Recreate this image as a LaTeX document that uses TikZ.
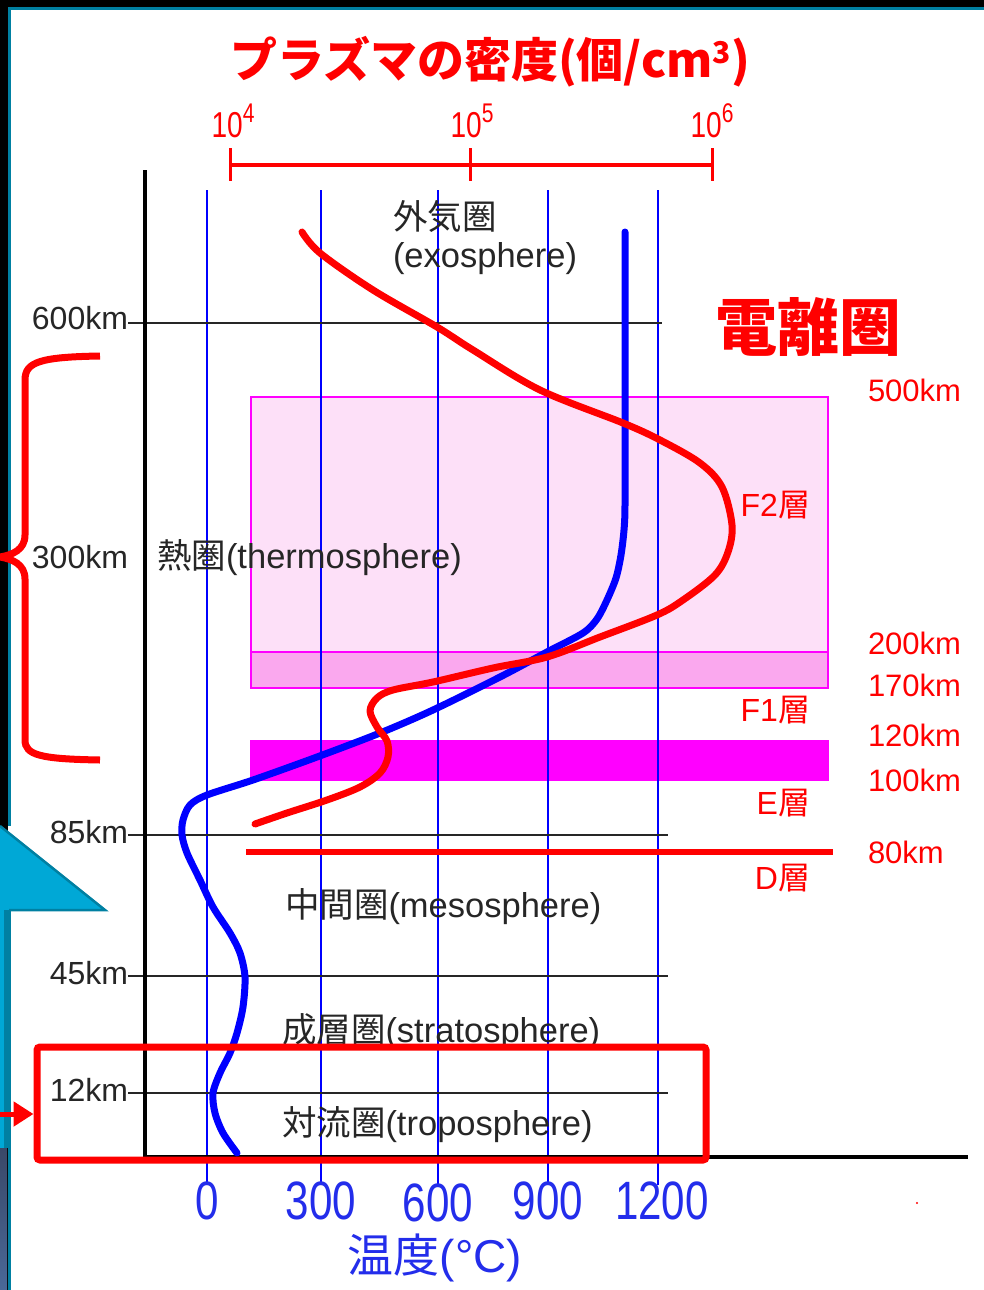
\documentclass[tikz,border=0pt]{standalone}
\usepackage{fontspec}
\setmainfont{Liberation Sans}
\newfontfamily\jp{Noto Sans CJK JP}
\newfontfamily\narrow[FakeStretch=0.78]{Liberation Sans}
\usetikzlibrary{arrows.meta, positioning, calc}

\definecolor{plasmared}{RGB}{255,0,0}
\definecolor{tempblue}{RGB}{0,0,255}
\definecolor{labelblue}{RGB}{35,45,235}
\definecolor{ftwopink}{RGB}{253,224,248}
\definecolor{fonepink}{RGB}{250,168,238}
\definecolor{elayer}{RGB}{255,0,255}
\definecolor{slideteal}{RGB}{0,128,162}
\definecolor{slidecyan}{RGB}{0,168,214}
\definecolor{slidedark}{RGB}{58,72,104}
\definecolor{slidedarklow}{RGB}{74,104,152}

\newcommand{\tenpow}[1]{10\raisebox{15pt}{\fontsize{27}{27}\selectfont #1}}

\tikzset{
  base/.style = {
    inner sep=0pt, outer sep=0pt
  },
  kmlabel/.style = {
    base, text=black!85, anchor=east, font=\fontsize{32}{34}\selectfont
  },
  ionlabel/.style = {
    base, text=plasmared, anchor=west, font=\fontsize{31}{33}\selectfont
  },
  layerlabel/.style = {
    base, text=plasmared, anchor=east, font=\fontsize{32}{34}\selectfont
  },
  zonelabel/.style = {
    base, text=black!85, anchor=west, align=left,
    font=\fontsize{34.5}{38}\selectfont
  },
  templabel/.style = {
    base, text=labelblue, font=\narrow\fontsize{54}{56}\selectfont
  },
  denslabel/.style = {
    base, text=plasmared, font=\narrow\fontsize{36}{38}\selectfont
  },
  tempgrid/.style = {tempblue, line width=1.5pt},
  altgrid/.style = {black!85, line width=1.5pt},
  axis/.style = {black, line width=3.5pt},
  tempcurve/.style = {
    tempblue, line width=7pt, line join=round, line cap=round
  },
  plasmacurve/.style = {
    plasmared, line width=7pt, line join=round, line cap=round
  },
  highlight/.style = {
    draw=plasmared, line width=7pt, rounded corners=3pt, inner sep=0pt,
    minimum width=669pt, minimum height=113pt
  },
  pointer/.style = {
    plasmared, line width=5pt, -{Triangle[length=20pt, width=24pt]}
  }
}

\begin{document}
\begin{tikzpicture}[
  x=1pt, y=-1pt,
  every node/.style = {align=center}
  ]

  % Canvas and slide frame
  \useasboundingbox (0,0) rectangle (984,1290);
  \fill[white] (0,0) rectangle (984,1290);
  \fill[black] (0,0) rectangle (984,7);
  \fill[black] (0,0) rectangle (8,1290);
  \fill[slidecyan] (0,826) -- (105,910) -- (0,910) -- cycle;
  \draw[slideteal, line width=2.5pt] (0,826) -- (105,910) -- (9,910);
  \fill[slideteal] (0,910) rectangle (11,1148);
  \fill[slidecyan] (0,910) rectangle (4,1148);
  \shade[top color=slidedark, bottom color=slidedarklow] (0,1148) rectangle (7,1290);
  \draw[slideteal, line width=3.5pt] (984,8.5) -- (9.5,8.5) -- (9.5,826);
  \draw[slideteal, line width=3.5pt] (9.5,1148) -- (9.5,1290);

  % Ionosphere layers
  \fill[ftwopink, draw=elayer, line width=1.5pt] (251,397) rectangle (828,652);
  \fill[fonepink, draw=elayer, line width=1.5pt] (251,652) rectangle (828,688);
  \fill[elayer] (250,740) rectangle (829,781);

  % Grid lines
  \foreach \x in {207,321,438,548,658}
    \draw[tempgrid] (\x,190) -- (\x,1185);
  \foreach \y/\e in {323/662, 835/668, 976/668, 1093/668}
    \draw[altgrid] (128,\y) -- (\e,\y);

  % Axes
  \draw[axis] (145,170) -- (145,1157);
  \draw[axis, line width=4pt] (145,1157) -- (968,1157);

  % D layer
  \draw[plasmared, line width=6pt] (246,852) -- (833,852);

  % Density scale
  \draw[plasmared, line width=4pt] (230,165) -- (712,165);
  \foreach \x in {230,470,712}
    \draw[plasmared, line width=3pt] (\x,148) -- (\x,181);

  % Temperature profile
  \draw[tempcurve] plot[smooth, tension=0.5] coordinates {
    (625,232) (625,420) (625,505) (624,530) (621,555) (616,578) (607,600)
    (597,619) (583,633) (547,652) (500,677) (433,710) (380,733) (317,757)
    (253,780) (207,795) (190,805) (183,820) (182,835) (187,853) (200,880)
    (213,907) (230,933) (240,953) (245,977) (243,1007) (237,1033)
    (230,1053) (220,1073) (213,1093) (215,1113) (223,1133) (237,1153)};

  % Plasma density profile
  \draw[plasmacurve] plot[smooth, tension=0.55] coordinates {
    (302,232) (320,253) (373,290) (437,327) (473,350) (540,390) (623,423)
    (660,440) (700,463) (722,487) (732,525) (728,552) (715,575) (683,600)
    (657,615) (600,637) (547,657) (493,668) (433,682) (393,690) (377,698)
    (370,711) (377,727) (387,741) (388,757) (380,773) (360,787) (327,800)
    (287,813) (255,824)};

  % Titles
  \node[text=plasmared, font=\jp\bfseries\fontsize{47}{50}\selectfont]
    (densitytitle) at (490,62)
    {プラズマの密度(個/cm\raisebox{14pt}{\fontsize{30}{30}\selectfont 3})};
  \node[text=plasmared, font=\jp\bfseries\fontsize{62}{64}\selectfont]
    (ionosphere) at (808,327) {電離圏};

  % Density scale labels
  \node[denslabel] (dens4) at (233,121) {\tenpow{4}};
  \node[denslabel] (dens5) at (472,121) {\tenpow{5}};
  \node[denslabel] (dens6) at (712,121) {\tenpow{6}};

  % Altitude labels (left)
  \node[kmlabel] (alt600) at (128,318) {600km};
  \node[kmlabel] (alt300) at (128,557) {300km};
  \node[kmlabel] (alt85) at (128,832) {85km};
  \node[kmlabel] (alt45) at (128,973) {45km};
  \node[kmlabel] (alt12) at (128,1090) {12km};

  % Ionosphere heights (right)
  \node[ionlabel] (ion500) at (868,390) {500km};
  \node[ionlabel] (ion200) at (868,643) {200km};
  \node[ionlabel] (ion170) at (868,685) {170km};
  \node[ionlabel] (ion120) at (868,735) {120km};
  \node[ionlabel] (ion100) at (868,780) {100km};
  \node[ionlabel] (ion80) at (868,852) {80km};

  % Layer names
  \node[layerlabel] (ftwo) at (810,505) {F2{\jp 層}};
  \node[layerlabel] (fone) at (810,710) {F1{\jp 層}};
  \node[layerlabel] (elay) at (810,803) {E{\jp 層}};
  \node[layerlabel] (dlay) at (810,878) {D{\jp 層}};

  % Atmosphere zones
  \node[zonelabel] (exo) at (393,238) {{\jp 外気圏}\\(exosphere)};
  \node[zonelabel] (thermo) at (157,558) {{\jp 熱圏}(thermosphere)};
  \node[zonelabel] (meso) at (285,907) {{\jp 中間圏}(mesosphere)};
  \node[zonelabel] (strato) at (282,1032) {{\jp 成層圏}(stratosphere)};
  \node[zonelabel] (tropo) at (282,1125) {{\jp 対流圏}(troposphere)};

  % Temperature labels
  \node[templabel] (temp0) at (207,1201) {0};
  \node[templabel] (temp300) at (321,1201) {300};
  \node[templabel] (temp600) at (438,1203) {600};
  \node[templabel] (temp900) at (548,1201) {900};
  \node[templabel] (temp1200) at (662,1201) {1200};
  \node[text=labelblue, font=\fontsize{46}{48}\selectfont]
    (tempaxis) at (435,1258) {{\jp 温度}(°C)};

  % Thermosphere bracket
  \draw[plasmared, line width=7pt]
    (100,356) .. controls (40,357) and (25,362) .. (25,380) -- (25,535)
    .. controls (25,550) and (12,555) .. (0,557)
    .. controls (12,559) and (25,564) .. (25,579) -- (25,740)
    .. controls (25,755) and (40,759) .. (100,760);

  % Troposphere highlight
  \node[highlight] (tropobox) at (371.5,1103.5) {};
  \coordinate (pointtail) at (0,1114);
  \draw[pointer] (pointtail) -- (pointtail -| tropobox.west);

  \fill[plasmared] (917,1203) circle (1.2);

\end{tikzpicture}
\end{document}
